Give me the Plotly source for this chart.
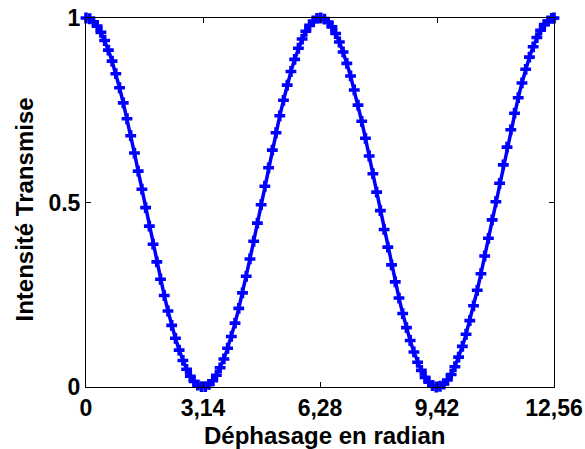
import plotly.graph_objects as go

x_rad = [0.0, 0.1, 0.2, 0.3, 0.4, 0.5, 0.6, 0.7, 0.8, 0.9,
         1.0, 1.1, 1.2, 1.3, 1.4, 1.5, 1.6, 1.7, 1.8, 1.9,
         2.0, 2.1, 2.2, 2.3, 2.4, 2.5, 2.6, 2.7, 2.8, 2.9,
         3.0, 3.1, 3.2, 3.3, 3.4, 3.5, 3.6, 3.7, 3.8, 3.9,
         4.0, 4.1, 4.2, 4.3, 4.4, 4.5, 4.6, 4.7, 4.8, 4.9,
         5.0, 5.1, 5.2, 5.3, 5.4, 5.5, 5.6, 5.7, 5.8, 5.9,
         6.0, 6.1, 6.2, 6.3, 6.4, 6.5, 6.6, 6.7, 6.8, 6.9,
         7.0, 7.1, 7.2, 7.3, 7.4, 7.5, 7.6, 7.7, 7.8, 7.9,
         8.0, 8.1, 8.2, 8.3, 8.4, 8.5, 8.6, 8.7, 8.8, 8.9,
         9.0, 9.1, 9.2, 9.3, 9.4, 9.5, 9.6, 9.7, 9.8, 9.9,
         10.0, 10.1, 10.2, 10.3, 10.4, 10.5, 10.6, 10.7, 10.8, 10.9,
         11.0, 11.1, 11.2, 11.3, 11.4, 11.5, 11.6, 11.7, 11.8, 11.9,
         12.0, 12.1, 12.2, 12.3, 12.4, 12.5, 12.56]

intensite = [1.000, 0.998, 0.990, 0.978, 0.961, 0.939, 0.913, 0.883, 0.849, 0.811,
             0.770, 0.727, 0.681, 0.634, 0.585, 0.536, 0.486, 0.436, 0.387, 0.339,
             0.292, 0.248, 0.206, 0.167, 0.132, 0.100, 0.072, 0.048, 0.029, 0.015,
             0.005, 0.001, 0.001, 0.007, 0.017, 0.032, 0.052, 0.076, 0.105, 0.137,
             0.173, 0.213, 0.255, 0.300, 0.347, 0.395, 0.444, 0.494, 0.544, 0.594,
             0.642, 0.689, 0.735, 0.777, 0.818, 0.855, 0.888, 0.918, 0.943, 0.964,
             0.980, 0.992, 0.999, 1.000, 0.997, 0.989, 0.976, 0.958, 0.935, 0.908,
             0.877, 0.843, 0.805, 0.764, 0.720, 0.674, 0.626, 0.578, 0.528, 0.478,
             0.427, 0.379, 0.331, 0.285, 0.241, 0.199, 0.161, 0.126, 0.095, 0.067,
             0.045, 0.026, 0.013, 0.004, 0.000, 0.002, 0.008, 0.019, 0.034, 0.055,
             0.081, 0.110, 0.143, 0.180, 0.220, 0.262, 0.307, 0.355, 0.403, 0.453,
             0.502, 0.552, 0.602, 0.650, 0.697, 0.742, 0.784, 0.824, 0.861, 0.894,
             0.922, 0.947, 0.967, 0.982, 0.992, 0.999, 1.000]

x_tickvals = [0, 3.14, 6.28, 9.42, 12.56]
x_ticktext = ["0", "3,14", "6,28", "9,42", "12,56"]
y_tickvals = [0, 0.5, 1]
y_ticktext = ["0", "0.5", "1"]

x_title = "Déphasage en radian"
y_title = "Intensité Transmise"

font_family = "Liberation Sans, Arial, sans-serif"
tick_font = dict(family=font_family, size=23, color="black", weight="bold")
title_font = dict(family=font_family, size=24, color="black", weight="bold")

fig = go.Figure()
fig.add_trace(go.Scatter(
    x=x_rad, y=intensite,
    mode="lines+markers",
    line=dict(color="#0000FF", width=3.5),
    marker=dict(symbol="cross", size=9, color="#0000FF"),
    cliponaxis=False,
    showlegend=False,
))

axis_common = dict(
    showgrid=False, zeroline=False, automargin=False,
    showline=True, linecolor="black", linewidth=1, mirror="ticks",
    ticks="inside", ticklen=5, tickcolor="black", tickwidth=1,
    tickfont=tick_font,
)

fig.update_layout(
    width=585, height=449,
    margin=dict(l=86, r=31, t=18, b=62),
    paper_bgcolor="white", plot_bgcolor="white",
    xaxis=dict(range=[0, 12.56], tickvals=x_tickvals, ticktext=x_ticktext, **axis_common),
    yaxis=dict(range=[0, 1], tickvals=y_tickvals, ticktext=y_ticktext, **axis_common),
    annotations=[
        dict(text=x_title, xref="paper", yref="paper", x=0.509, y=0,
             xanchor="center", yanchor="middle", yshift=-48, showarrow=False, font=title_font),
        dict(text=y_title, xref="paper", yref="paper", x=0, y=0.5,
             xanchor="center", yanchor="middle", xshift=-62, yshift=-7,
             textangle=-90, showarrow=False, font=title_font),
    ],
)

fig.write_html("out.html", config={"displayModeBar": False},
               post_script="document.body.style.margin='0';")
